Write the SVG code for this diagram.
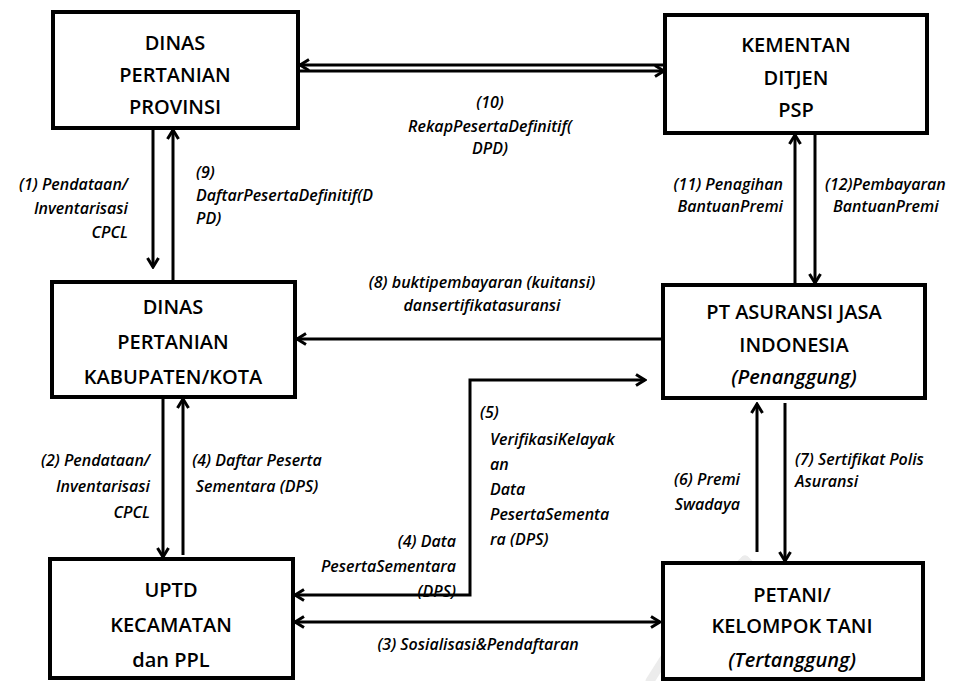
<svg xmlns="http://www.w3.org/2000/svg" width="962" height="681" viewBox="0 0 962 681">
<defs>
<style>
.box{fill:#fff;stroke:#000;stroke-width:4}
.nt{font-family:"Open Sans","Liberation Sans",sans-serif;font-size:20px;font-weight:600;fill:#000;text-anchor:middle}
.ni{font-style:italic}
.lb{font-family:"Open Sans","Liberation Sans",sans-serif;font-size:16px;font-weight:600;font-style:italic;fill:#000}
.c{fill:none;stroke:#000;stroke-width:3}
.wm{fill:none;stroke:#ececec;stroke-width:9;stroke-linecap:round}
</style>
<marker id="ah" viewBox="0 0 14 14" refX="12" refY="7" markerWidth="14" markerHeight="14" markerUnits="userSpaceOnUse" orient="auto-start-reverse">
<path d="M3,1.5 L12,7 L3,12.5" fill="none" stroke="#000" stroke-width="3"/>
</marker>
</defs>
<rect width="962" height="681" fill="#fff"/>
<g id="watermark">
<path class="wm" d="M745,560 L870,681"/>
<path class="wm" d="M745,560 Q700,600 650,681"/>
</g>
<g id="connectors">
<line class="c" x1="665" y1="65" x2="300" y2="65" marker-end="url(#ah)"/>
<line class="c" x1="300" y1="71" x2="664" y2="71" marker-end="url(#ah)"/>
<line class="c" x1="153" y1="128" x2="153" y2="267" marker-end="url(#ah)"/>
<line class="c" x1="173" y1="282" x2="173" y2="130" marker-end="url(#ah)"/>
<line class="c" x1="163" y1="397" x2="163" y2="557" marker-end="url(#ah)"/>
<line class="c" x1="183" y1="555" x2="183" y2="399" marker-end="url(#ah)"/>
<line class="c" x1="795" y1="285" x2="795" y2="135" marker-end="url(#ah)"/>
<line class="c" x1="815" y1="125" x2="815" y2="283" marker-end="url(#ah)"/>
<line class="c" x1="757" y1="552" x2="757" y2="404" marker-end="url(#ah)"/>
<line class="c" x1="785" y1="403" x2="785" y2="561" marker-end="url(#ah)"/>
<line class="c" x1="663" y1="339" x2="297" y2="339" marker-end="url(#ah)"/>
<polyline class="c" points="295,595 470,595 470,380 645,380" marker-start="url(#ah)" marker-end="url(#ah)"/>
<line class="c" x1="295" y1="622" x2="660" y2="622" marker-start="url(#ah)" marker-end="url(#ah)"/>
</g>
<g id="n-provinsi">
<rect class="box" x="53" y="12" width="245" height="116"/>
<text class="nt" x="175" y="50">DINAS</text>
<text class="nt" x="175" y="82">PERTANIAN</text>
<text class="nt" x="175" y="114">PROVINSI</text>
</g>
<g id="n-kementan">
<rect class="box" x="665" y="15" width="262" height="118"/>
<text class="nt" x="796" y="52">KEMENTAN</text>
<text class="nt" x="796" y="85">DITJEN</text>
<text class="nt" x="796" y="117">PSP</text>
</g>
<g id="n-kabupaten">
<rect class="box" x="52" y="282" width="243" height="115"/>
<text class="nt" x="173" y="314">DINAS</text>
<text class="nt" x="173" y="349">PERTANIAN</text>
<text class="nt" x="173" y="384">KABUPATEN/KOTA</text>
</g>
<g id="n-asuransi">
<rect class="box" x="663" y="285" width="262" height="113"/>
<text class="nt" x="794" y="319">PT ASURANSI JASA</text>
<text class="nt" x="794" y="352">INDONESIA</text>
<text class="nt ni" x="794" y="384">(Penanggung)</text>
</g>
<g id="n-uptd">
<rect class="box" x="50" y="559" width="243" height="119"/>
<text class="nt" x="171" y="597">UPTD</text>
<text class="nt" x="171" y="632">KECAMATAN</text>
<text class="nt" x="171" y="667">dan PPL</text>
</g>
<g id="n-petani">
<rect class="box" x="663" y="563" width="260" height="116"/>
<text class="nt" x="792" y="602">PETANI/</text>
<text class="nt" x="792" y="633">KELOMPOK TANI</text>
<text class="nt ni" x="792" y="667">(Tertanggung)</text>
</g>
<g id="labels">
<text class="lb" x="490" y="108" text-anchor="middle">(10)</text>
<text class="lb" x="490" y="132" text-anchor="middle">RekapPesertaDefinitif(</text>
<text class="lb" x="490" y="154" text-anchor="middle">DPD)</text>
<text class="lb" x="128" y="190" text-anchor="end">(1) Pendataan/</text>
<text class="lb" x="128" y="214" text-anchor="end">Inventarisasi</text>
<text class="lb" x="128" y="238" text-anchor="end">CPCL</text>
<text class="lb" x="196" y="178">(9)</text>
<text class="lb" x="196" y="201">DaftarPesertaDefinitif(D</text>
<text class="lb" x="196" y="224">PD)</text>
<text class="lb" x="783" y="190" text-anchor="end">(11) Penagihan</text>
<text class="lb" x="783" y="212" text-anchor="end">BantuanPremi</text>
<text class="lb" x="825" y="190">(12)Pembayaran</text>
<text class="lb" x="833" y="212">BantuanPremi</text>
<text class="lb" x="482" y="288" text-anchor="middle">(8) buktipembayaran (kuitansi)</text>
<text class="lb" x="482" y="311" text-anchor="middle">dansertifikatasuransi</text>
<text class="lb" x="150" y="466" text-anchor="end">(2) Pendataan/</text>
<text class="lb" x="150" y="492" text-anchor="end">Inventarisasi</text>
<text class="lb" x="150" y="518" text-anchor="end">CPCL</text>
<text class="lb" x="257" y="466" text-anchor="middle">(4) Daftar Peserta</text>
<text class="lb" x="257" y="492" text-anchor="middle">Sementara (DPS)</text>
<text class="lb" x="480" y="418">(5)</text>
<text class="lb" x="490" y="445">VerifikasiKelayak</text>
<text class="lb" x="490" y="470">an</text>
<text class="lb" x="490" y="495">Data</text>
<text class="lb" x="490" y="520">PesertaSementa</text>
<text class="lb" x="490" y="545">ra (DPS)</text>
<text class="lb" x="456" y="547" text-anchor="end">(4) Data</text>
<text class="lb" x="456" y="572" text-anchor="end">PesertaSementara</text>
<text class="lb" x="456" y="597" text-anchor="end">(DPS)</text>
<text class="lb" x="478" y="650" text-anchor="middle">(3) Sosialisasi&amp;Pendaftaran</text>
<text class="lb" x="740" y="485" text-anchor="end">(6) Premi</text>
<text class="lb" x="740" y="510" text-anchor="end">Swadaya</text>
<text class="lb" x="795" y="465">(7) Sertifikat Polis</text>
<text class="lb" x="795" y="487">Asuransi</text>
</g>
</svg>
